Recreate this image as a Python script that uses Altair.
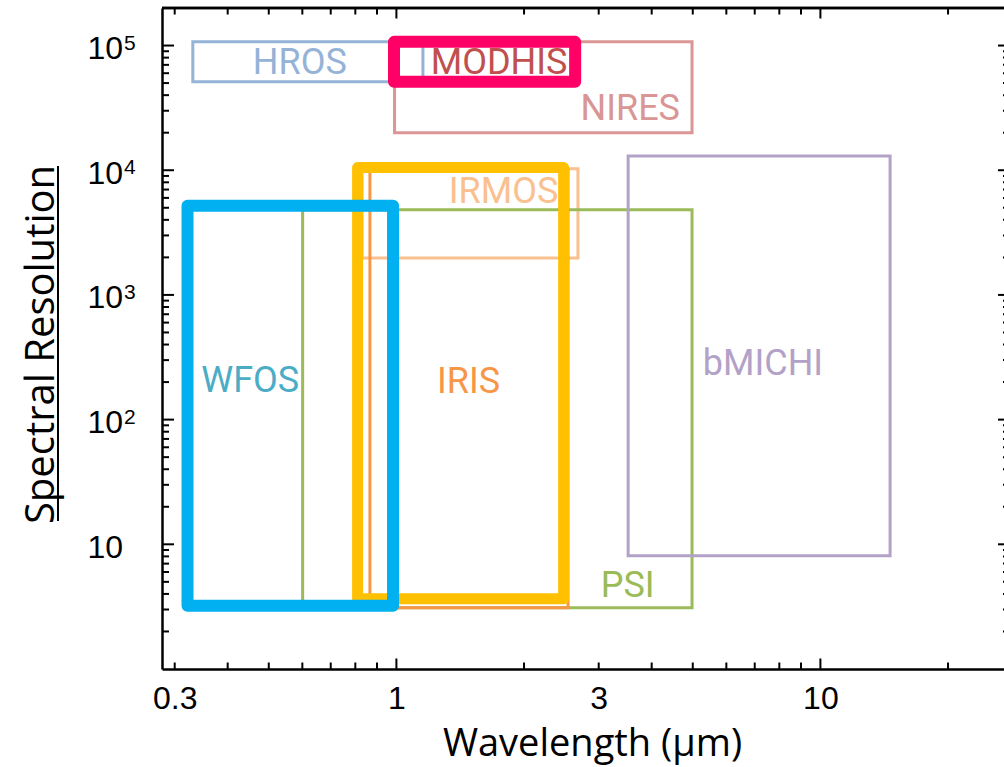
import altair as alt
import pandas as pd

# ---------------- data ----------------
# thin outlined instrument boxes
thin_names = ["HROS", "NIRES", "IRMOS", "PSI", "bMICHI", "IRIS"]
thin_lam_min = [0.331, 0.99, 0.83, 0.601, 3.52, 0.866]
thin_lam_max = [1.155, 4.98, 2.68, 4.98, 14.6, 2.54]
thin_R_min = [5.12e4, 2.0e4, 1.98e3, 3.10, 8.09, 3.10]
thin_R_max = [1.07e5, 1.07e5, 1.03e4, 4.81e3, 1.30e4, 1.0e4]

# thick highlighted boxes
thick_names = ["IRIS", "WFOS", "MODHIS"]
thick_lam_min = [0.810, 0.3216, 0.987]
thick_lam_max = [2.48, 0.982, 2.64]
thick_R_min = [3.66, 3.21, 5.12e4]
thick_R_max = [1.05e4, 5.19e3, 1.07e5]

# instrument labels
label_names = ["HROS", "MODHIS", "NIRES", "IRMOS", "WFOS", "IRIS", "bMICHI", "PSI"]
label_lam = [0.592, 1.746, 3.56, 1.789, 0.452, 1.479, 7.32, 3.51]
label_R = [7.26e4, 7.26e4, 3.08e4, 6.71e3, 205, 199, 280, 4.6]

# axes
x_tick_values = [0.3, 1, 3, 10]
x_tick_labels = ["0.3", "1", "3", "10"]
y_tick_values = [10, 100, 1000, 10000, 100000]
y_tick_base = ["10", "10", "10", "10", "10"]
y_tick_exp = ["", "2", "3", "4", "5"]
x_major = [1, 10]
x_minor = [0.3, 0.4, 0.5, 0.6, 0.7, 0.8, 0.9, 2, 3, 4, 5, 6, 7, 8, 9, 20]
y_major = [10, 100, 1000, 10000, 100000]
y_minor = [m * 10 ** k for k in range(0, 5) for m in range(2, 10)]

# ---------------- styles ----------------
thin_colors = {"HROS": "#95B3D7", "NIRES": "#D99694", "IRMOS": "#FAC090",
               "PSI": "#9BBB59", "bMICHI": "#B3A2C7", "IRIS": "#F79646"}
thick_colors = {"IRIS": "#FFC000", "WFOS": "#00B0F0", "MODHIS": "#FF0066"}
thick_widths = {"IRIS": 11, "WFOS": 12, "MODHIS": 12}
label_colors = {"HROS": "#95B3D7", "MODHIS": "#C0504D", "NIRES": "#D99694",
                "IRMOS": "#FAC090", "WFOS": "#4BACC6", "IRIS": "#F79646",
                "bMICHI": "#B3A2C7", "PSI": "#9BBB59"}

W, H = 842, 661
XR = 848  # full x range (plot continues a little past the window edge)

thin_df = pd.DataFrame({"name": thin_names, "lmin": thin_lam_min, "lmax": thin_lam_max,
                        "rmin": thin_R_min, "rmax": thin_R_max})
thin_df["col"] = thin_df["name"].map(thin_colors)
thick_df = pd.DataFrame({"name": thick_names, "lmin": thick_lam_min, "lmax": thick_lam_max,
                         "rmin": thick_R_min, "rmax": thick_R_max})
thick_df["col"] = thick_df["name"].map(thick_colors)
thick_df["sw"] = thick_df["name"].map(thick_widths)
lab_df = pd.DataFrame({"name": label_names, "lam": label_lam, "R": label_R})
lab_df["col"] = lab_df["name"].map(label_colors)
exp_df = pd.DataFrame({"v": y_tick_values, "e": y_tick_exp})

xscale = alt.Scale(type="log", domain=[0.28, 28], range=[0, XR], nice=False)
yscale = alt.Scale(type="log", domain=[1, 2e5], nice=False)


def expr(vals, labs):
    s = "''"
    for v, l in reversed(list(zip(vals, labs))):
        s = f"(datum.value == {v} ? '{l}' : {s})"
    return s


TF = "Open Sans"
x_axis = alt.Axis(values=x_tick_values, labelExpr=expr(x_tick_values, x_tick_labels),
                  ticks=False, tickSize=0, grid=False, domain=True, domainColor="black",
                  domainWidth=2.5, labelFont="Liberation Sans", labelFontSize=32,
                  labelColor="black", labelPadding=14, labelOverlap=False, labelFlush=False,
                  title="Wavelength (μm)", titleFont=TF, titleFontSize=38,
                  titleFontWeight="normal", titleColor="black", titleX=430, titleY=86,
                  titleBaseline="alphabetic", titleAlign="center")
y_axis = alt.Axis(values=y_tick_values, labelExpr=expr(y_tick_values, y_tick_base),
                  ticks=False, tickSize=0, grid=False, domain=True, domainColor="black",
                  domainWidth=2.5, labelFont="Liberation Sans", labelFontSize=32,
                  labelColor="black", labelAlign="left", labelPadding=75, labelOffset=3,
                  labelBaseline="middle", labelOverlap=False, labelFlush=False,
                  title="Spectral Resolution", titleFont=TF, titleFontSize=40,
                  titleFontWeight="normal", titleColor="black", titleAngle=270,
                  titleX=-109, titleY=336, titleBaseline="alphabetic", titleAlign="center")

thin = alt.Chart(thin_df).mark_rect(filled=False, strokeWidth=3).encode(
    x=alt.X("lmin:Q", scale=xscale, axis=x_axis),
    x2="lmax:Q",
    y=alt.Y("rmin:Q", scale=yscale, axis=y_axis),
    y2="rmax:Q",
    color=alt.Color("col:N", scale=None),
)

labels = alt.Chart(lab_df).mark_text(font="Roboto", fontSize=36, align="center",
                                     baseline="middle").encode(
    x=alt.X("lam:Q", scale=xscale, axis=x_axis),
    y=alt.Y("R:Q", scale=yscale, axis=y_axis),
    text="name:N",
    color=alt.Color("col:N", scale=None),
)

thick = alt.Chart(thick_df).mark_rect(filled=False, strokeJoin="round").encode(
    x=alt.X("lmin:Q", scale=xscale, axis=x_axis),
    x2="lmax:Q",
    y=alt.Y("rmin:Q", scale=yscale, axis=y_axis),
    y2="rmax:Q",
    color=alt.Color("col:N", scale=None),
    strokeWidth=alt.StrokeWidth("sw:Q", scale=None),
)

exponents = alt.Chart(exp_df).mark_text(font="Liberation Sans", fontSize=21, align="left",
                                        baseline="middle", color="black", dy=-2).encode(
    y=alt.Y("v:Q", scale=yscale, axis=y_axis),
    x=alt.value(-38),
    text="e:N",
)

xmaj = pd.DataFrame({"v": x_major})
xmin = pd.DataFrame({"v": x_minor})
ymaj = pd.DataFrame({"v": y_major})
ymin = pd.DataFrame({"v": y_minor})


def xticks(df, y0, y1):
    return alt.Chart(df).mark_rule(color="black", strokeWidth=2).encode(
        x=alt.X("v:Q", scale=xscale, axis=x_axis), y=alt.value(y0), y2=alt.value(y1))


def yticks(df, x0, x1):
    return alt.Chart(df).mark_rule(color="black", strokeWidth=2).encode(
        y=alt.Y("v:Q", scale=yscale, axis=y_axis), x=alt.value(x0), x2=alt.value(x1))


tick_layers = [
    xticks(xmin, H, H - 6.5), xticks(xmaj, H, H - 10.5),
    xticks(xmin, 0, 6.5), xticks(xmaj, 0, 10.5),
    yticks(ymin, 0, 7), yticks(ymaj, 0, 12),
    yticks(ymin, XR, XR - 7), yticks(ymaj, XR, XR - 12),
]

top_line = alt.Chart(xmaj).mark_rule(color="black", strokeWidth=2.5).encode(
    x=alt.value(0), x2=alt.value(XR), y=alt.value(0))
underline = alt.Chart(xmaj).mark_rule(color="black", strokeWidth=2).encode(
    x=alt.value(-104), y=alt.value(158), y2=alt.value(513))

chart = alt.layer(thin, labels, thick, exponents, *tick_layers, top_line, underline).properties(
    width=W, height=H,
    autosize=alt.AutoSizeParams(type="none"),
    padding={"left": 162, "top": 8, "right": 0, "bottom": 98},
    background="white",
).configure_view(stroke=None)

chart.save("out.html", embed_options={"renderer": "svg", "actions": False})
